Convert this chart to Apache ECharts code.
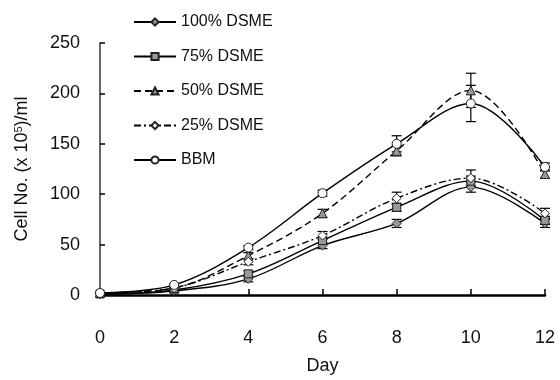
<!DOCTYPE html>
<html>
<head>
<meta charset="utf-8">
<script src="https://cdn.jsdelivr.net/npm/echarts@6/dist/echarts.min.js"></script>
<style>
  html, body { margin: 0; padding: 0; background: #fff; }
  #chart { width: 560px; height: 380px; }
</style>
</head>
<body>
<div id="chart"></div>
<script>
// Days sampled
const days = [0, 2, 4, 6, 8, 10, 12];

// Cell counts (x 10^5 / ml)
const dsme100 = [1, 4, 16, 49, 71, 107, 71];
const dsme75 = [1, 5, 21, 54, 87, 113, 74];
const dsme50 = [2, 7, 39, 81, 143, 203, 120];
const dsme25 = [2, 7, 33, 59, 96, 116, 81];
const bbm = [2, 10, 47, 101, 150, 190, 127];

// Error (+/-)
const err100 = [0, 1, 3, 3, 4, 5, 4];
const err75 = [0, 1, 3, 3, 4, 5, 4];
const err50 = [0, 1, 3, 4, 5, 17, 4];
const err25 = [0, 1, 3, 4, 6, 8, 5];
const errBbm = [0, 1, 2, 3, 8, 18, 4];

const yTicks = [0, 50, 100, 150, 200, 250];

const font = 'Liberation Sans, Arial, sans-serif';
const chart = echarts.init(document.getElementById('chart'));

const pts = arr => days.map((d, i) => [d, arr[i]]);
const bars = (arr, err) => days.map((d, i) => [d, arr[i] - err[i], arr[i] + err[i]]);

function errorSeries(name, arr, err) {
  return {
    type: 'custom',
    name: name + ' err',
    z: 1,
    silent: true,
    data: bars(arr, err),
    renderItem: (params, api) => {
      const lo = api.coord([api.value(0), api.value(1)]);
      const hi = api.coord([api.value(0), api.value(2)]);
      const w = 5;
      const style = { stroke: '#000', lineWidth: 1.2 };
      return {
        type: 'group',
        children: [
          { type: 'line', shape: { x1: lo[0], y1: lo[1], x2: hi[0], y2: hi[1] }, style },
          { type: 'line', shape: { x1: lo[0] - w, y1: lo[1], x2: lo[0] + w, y2: lo[1] }, style },
          { type: 'line', shape: { x1: hi[0] - w, y1: hi[1], x2: hi[0] + w, y2: hi[1] }, style }
        ]
      };
    }
  };
}

function lineSeries(name, arr, symbol, fill, dash, size) {
  return {
    type: 'line',
    name,
    data: pts(arr),
    smooth: 0.35,
    symbol,
    symbolSize: size,
    z: 3,
    lineStyle: { color: '#000', width: 1.4, type: dash },
    itemStyle: { color: fill, borderColor: '#222', borderWidth: 1 }
  };
}

chart.setOption({
  animation: false,
  backgroundColor: '#fff',
  grid: { left: 100, right: 15, top: 43, bottom: 82 },
  legend: {
    orient: 'vertical',
    left: 128,
    top: 9,
    itemWidth: 42,
    itemHeight: 9,
    itemGap: 18.5,
    textStyle: { color: '#111', fontFamily: font, fontSize: 16 },
    data: ['100% DSME', '75% DSME', '50% DSME', '25% DSME', 'BBM']
  },
  xAxis: {
    type: 'value',
    min: 0,
    max: 12,
    interval: 2,
    name: 'Day',
    nameLocation: 'middle',
    nameGap: 62,
    nameTextStyle: { color: '#111', fontFamily: font, fontSize: 18 },
    axisLine: { lineStyle: { color: '#000', width: 2.5 } },
    axisTick: { inside: true, length: 6, lineStyle: { color: '#000', width: 1.5 } },
    axisLabel: { color: '#111', fontFamily: font, fontSize: 18, margin: 34 },
    splitLine: { show: false }
  },
  yAxis: {
    type: 'value',
    min: 0,
    max: 250,
    interval: 50,
    name: 'Cell No. (x 10{sup|5})/ml',
    nameLocation: 'middle',
    nameGap: 68,
    nameTextStyle: {
      color: '#111', fontFamily: font, fontSize: 18,
      rich: { sup: { fontSize: 11, verticalAlign: 'top', padding: [0, 0, 8, 0], fontFamily: font, color: '#111' } }
    },
    axisLine: { show: true, lineStyle: { color: '#333', width: 1.5 } },
    axisTick: { inside: true, length: 5, lineStyle: { color: '#000', width: 1.5 } },
    axisLabel: {
      color: '#111', fontFamily: font, fontSize: 18, margin: 20,
      formatter: v => (yTicks.includes(v) ? String(v) : '')
    },
    splitLine: { show: false }
  },
  series: [
    errorSeries('100% DSME', dsme100, err100),
    errorSeries('75% DSME', dsme75, err75),
    errorSeries('50% DSME', dsme50, err50),
    errorSeries('25% DSME', dsme25, err25),
    errorSeries('BBM', bbm, errBbm),
    lineSeries('100% DSME', dsme100, 'diamond', '#999', 'solid', 9),
    lineSeries('75% DSME', dsme75, 'rect', '#999', 'solid', 8),
    lineSeries('50% DSME', dsme50, 'triangle', '#999', [7, 4], 9),
    lineSeries('25% DSME', dsme25, 'diamond', '#fff', [7, 3, 2, 3], 9),
    lineSeries('BBM', bbm, 'circle', '#fff', 'solid', 9)
  ]
});
</script>
</body>
</html>
